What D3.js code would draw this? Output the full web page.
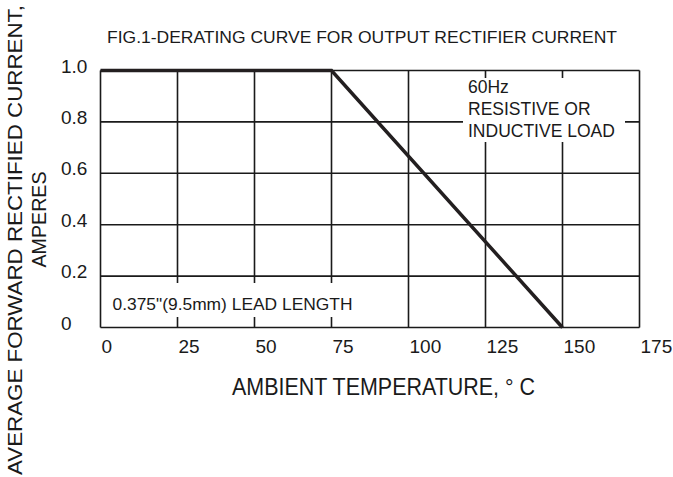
<!DOCTYPE html>
<html>
<head>
<meta charset="utf-8">
<script src="https://cdn.jsdelivr.net/npm/d3@7"></script>
<style>
  html, body { margin: 0; padding: 0; background: #fff; }
  svg { display: block; }
  text { font-family: "Liberation Sans", Arial, sans-serif; fill: #1a1a1a; }
</style>
</head>
<body>
<svg id="chart" width="673" height="477"></svg>
<script>
const title = 'FIG.1-DERATING CURVE FOR OUTPUT RECTIFIER CURRENT';
const xTitle = 'AMBIENT TEMPERATURE, \u00B0 C';
const yTitle = ['AVERAGE FORWARD RECTIFIED CURRENT,', 'AMPERES'];

const xTicks = [0, 25, 50, 75, 100, 125, 150, 175];
const xTickLabels = ['0', '25', '50', '75', '100', '125', '150', '175'];
const yTicks = [0, 0.2, 0.4, 0.6, 0.8, 1.0];
const yTickLabels = ['0', '0.2', '0.4', '0.6', '0.8', '1.0'];

// derating curve: ambient temperature (C) vs current (A)
const curveTemp = [0, 75, 150];
const curveCurrent = [1.0, 1.0, 0];

const noteLoad = ['60Hz', 'RESISTIVE OR', 'INDUCTIVE LOAD'];
const noteLead = '0.375"(9.5mm) LEAD LENGTH';

const svg = d3.select('#chart');
const ink = '#1a1a1a';

const x = d3.scaleLinear().domain([0, 175]).range([100.5, 639.5]);
const y = d3.scaleLinear().domain([0, 1]).range([327.5, 70.5]);

const g = svg.append('g');

// grid
g.selectAll('.vgrid')
  .data(xTicks)
  .enter()
  .append('line')
  .attr('x1', d => x(d)).attr('x2', d => x(d))
  .attr('y1', y(0)).attr('y2', y(1))
  .attr('stroke', ink)
  .attr('stroke-width', 1.6);

g.selectAll('.hgrid')
  .data(yTicks)
  .enter()
  .append('line')
  .attr('x1', x(0)).attr('x2', x(175))
  .attr('y1', d => y(d)).attr('y2', d => y(d))
  .attr('stroke', ink)
  .attr('stroke-width', 1.6);

// white boxes behind the notes hide the grid
g.append('rect')
  .attr('x', 463).attr('y', 78)
  .attr('width', 162).attr('height', 64)
  .attr('fill', '#fff');

g.append('rect')
  .attr('x', 106).attr('y', 283)
  .attr('width', 254).attr('height', 34)
  .attr('fill', '#fff');

// curve
const line = d3.line()
  .x((d, i) => x(curveTemp[i]))
  .y(d => y(d));

g.append('path')
  .datum(curveCurrent)
  .attr('d', line)
  .attr('fill', 'none')
  .attr('stroke', '#231f20')
  .attr('stroke-width', 3.5)
  .attr('stroke-linejoin', 'miter');

// notes
g.selectAll('.note')
  .data(noteLoad)
  .enter()
  .append('text')
  .attr('x', 468)
  .attr('y', (d, i) => 93 + i * 22)
  .attr('font-size', 17.5)
  .text(d => d);

g.append('text')
  .attr('x', 112.5)
  .attr('y', 310)
  .attr('font-size', 16.5)
  .attr('textLength', 240)
  .attr('lengthAdjust', 'spacingAndGlyphs')
  .text(noteLead);

// tick labels
g.selectAll('.xlabel')
  .data(xTicks)
  .enter()
  .append('text')
  .attr('x', d => x(d) + 1)
  .attr('y', 353)
  .attr('font-size', 19)
  .text((d, i) => xTickLabels[i]);

g.selectAll('.ylabel')
  .data(yTicks)
  .enter()
  .append('text')
  .attr('x', 61)
  .attr('y', d => y(d) + 2)
  .attr('font-size', 19)
  .text((d, i) => yTickLabels[i]);

// titles
svg.append('text')
  .attr('x', 107)
  .attr('y', 42.5)
  .attr('font-size', 16.5)
  .attr('textLength', 510)
  .attr('lengthAdjust', 'spacingAndGlyphs')
  .text(title);

svg.append('text')
  .attr('x', 232)
  .attr('y', 395)
  .attr('font-size', 23)
  .attr('textLength', 303)
  .attr('lengthAdjust', 'spacingAndGlyphs')
  .text(xTitle);

svg.append('text')
  .attr('transform', 'translate(22,475) rotate(-90)')
  .attr('font-size', 21)
  .attr('textLength', 470)
  .attr('lengthAdjust', 'spacingAndGlyphs')
  .text(yTitle[0]);

svg.append('text')
  .attr('transform', 'translate(46,219.5) rotate(-90)')
  .attr('text-anchor', 'middle')
  .attr('font-size', 21)
  .attr('textLength', 96)
  .attr('lengthAdjust', 'spacingAndGlyphs')
  .text(yTitle[1]);
</script>
</body>
</html>
